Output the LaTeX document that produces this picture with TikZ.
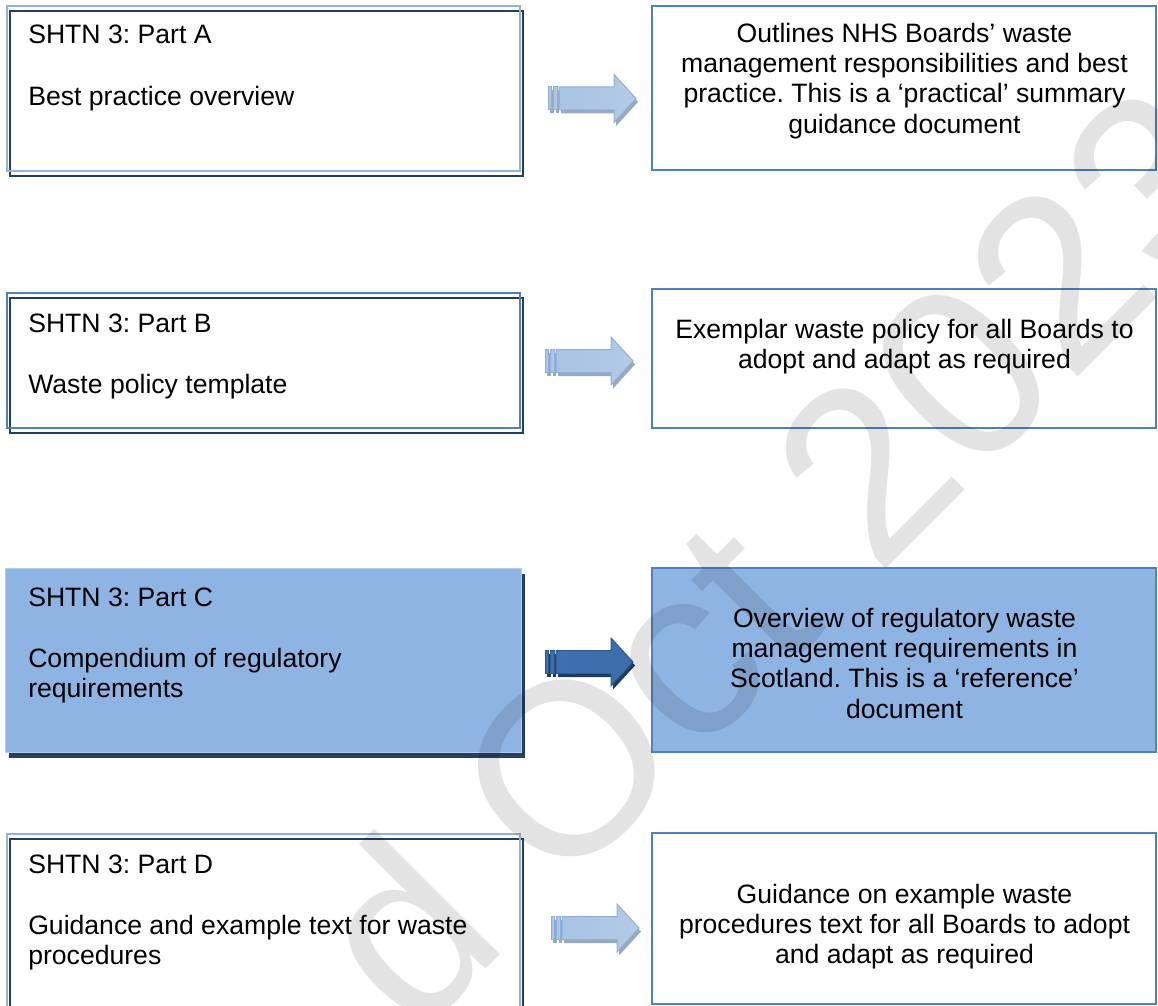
\documentclass[tikz,border=0pt]{standalone}
\usepackage{fontspec}
\setmainfont{Liberation Sans}
\definecolor{lightblue}{HTML}{95B3D7}
\definecolor{midblue}{HTML}{4F81BD}
\definecolor{navy}{HTML}{243F60}
\definecolor{boxfill}{HTML}{8EB4E3}
\definecolor{arrLa}{HTML}{A9C3E3}
\definecolor{arrLb}{HTML}{E1E9F4}
\definecolor{arrLc}{HTML}{B4CAE6}
\definecolor{arrLline}{HTML}{8EB0DA}
\definecolor{arrLshadow}{HTML}{98A8BD}
\definecolor{arrDa}{HTML}{3E6FAE}
\definecolor{arrDb}{HTML}{5B8CC8}
\definecolor{arrDc}{HTML}{3E6DAA}
\definecolor{arrDline}{HTML}{2F5A8E}
\definecolor{arrDshadow}{HTML}{1F3A5F}
\newcommand{\stripearrow}[3]{%
  \begin{scope}[shift={(#1,#2)}]
    \fill[#3shadow] (2,-8) rectangle ++(3.5,23);
    \fill[#3shadow] (7.5,-8) rectangle ++(3.5,23);
    \fill[#3shadow] (13,-8) -- (68,-8) -- (68,-20.5) -- (90,3.5) -- (68,27.5) -- (68,15) -- (13,15) -- cycle;
    \path[#3body] (0,-11.5) rectangle (3.5,11.5);
    \path[#3body] (5.5,-11.5) rectangle (9,11.5);
    \path[#3body] (11,-11.5) -- (66,-11.5) -- (66,-24) -- (88,0) -- (66,24) -- (66,11.5) -- (11,11.5) -- cycle;
  \end{scope}}
\begin{document}
\begin{tikzpicture}[x=0.75pt,y=-0.75pt,
  txt/.style={font=\fontsize{19.95}{22.7}\selectfont\frenchspacing, inner sep=0pt, text=black},
  lframe/.style={draw=lightblue, line width=1.5pt},
  mframe/.style={draw=midblue, line width=1.5pt},
  sframe/.style={draw=navy, line width=1.9pt},
  rbox/.style={draw=midblue, line width=1.5pt},
  lightbody/.style={left color=arrLa, middle color=arrLb, right color=arrLc, draw=arrLline, line width=0.75pt},
  lightshadow/.style={fill=arrLshadow},
  darkbody/.style={left color=arrDa, middle color=arrDb, right color=arrDc, draw=arrDline, line width=0.75pt},
  darkshadow/.style={fill=arrDshadow},
  mark wm/.style={font=\fontsize{183.75}{200}\selectfont, text=black, text opacity=0.11, inner sep=0pt}]
\useasboundingbox (0,0) rectangle (1158,1006);
\clip (0,0) rectangle (1158,1006);
\fill[white] (0,0) rectangle (1158,1006);

% ---- left boxes ----
% A
\draw[sframe] (10,11) rectangle (523,176);
\draw[lframe] (7,6) rectangle (520,171);
\node[txt, anchor=base west] (a1) at (28,44) {SHTN 3: Part A};
\node[txt, anchor=base west] (a2) at (28,106) {Best practice overview};
% B
\draw[sframe] (10,298) rectangle (523,433);
\draw[mframe] (7,293) rectangle (520,428);
\node[txt, anchor=base west] (b1) at (28,332) {SHTN 3: Part B};
\node[txt, anchor=base west] (b2) at (28,393) {Waste policy template};
% C
\fill[navy] (9,574) rectangle (525,758);
\fill[boxfill] (5,568) rectangle (521,752);
\draw[draw=boxfill!70!white, line width=0.75pt] (5,568) rectangle (521,752);
\node[txt, anchor=base west] (c1) at (28,606) {SHTN 3: Part C};
\node[txt, anchor=north west, align=left] (c2) at (28,645.8) {\strut Compendium of regulatory\\\strut requirements};
% D
\draw[sframe] (10,839) rectangle (523,1025);
\draw[lframe] (7,834) rectangle (520,1020);
\node[txt, anchor=base west] (d1) at (28,873) {SHTN 3: Part D};
\node[txt, anchor=north west, align=left] (d2) at (28,912.8) {\strut Guidance and example text for waste\\\strut procedures};

% ---- right boxes ----
\draw[rbox] (652,6) rectangle (1156,170);
\node[txt, anchor=north, align=center] (ra) at (904.5,20.8) {\strut Outlines NHS Boards’ waste\\\strut management responsibilities and best\\\strut practice. This is a ‘practical’ summary\\\strut guidance document};
\draw[rbox] (652,289) rectangle (1156,428);
\node[txt, anchor=north, align=center] (rb) at (904.5,316.8) {\strut Exemplar waste policy for all Boards to\\\strut adopt and adapt as required};
\draw[rbox, fill=boxfill] (652,568) rectangle (1156,752);
\node[txt, anchor=north, align=center] (rc) at (904.5,605.8) {\strut Overview of regulatory waste\\\strut management requirements in\\\strut Scotland. This is a ‘reference’\\\strut document};
\draw[rbox] (652,833) rectangle (1156,1004);
\node[txt, anchor=north, align=center] (rd) at (904.5,881.8) {\strut Guidance on example waste\\\strut procedures text for all Boards to adopt\\\strut and adapt as required};

% ---- striped arrows ----
\stripearrow{548}{98.5}{light}
\stripearrow{545}{361}{light}
\stripearrow{545}{662}{dark}
\stripearrow{551}{928}{light}

% ---- watermark ----
\node[mark wm, rotate=45, anchor=base west] (wm) at (415,1040) {d Oct 2023};
\end{tikzpicture}
\end{document}
